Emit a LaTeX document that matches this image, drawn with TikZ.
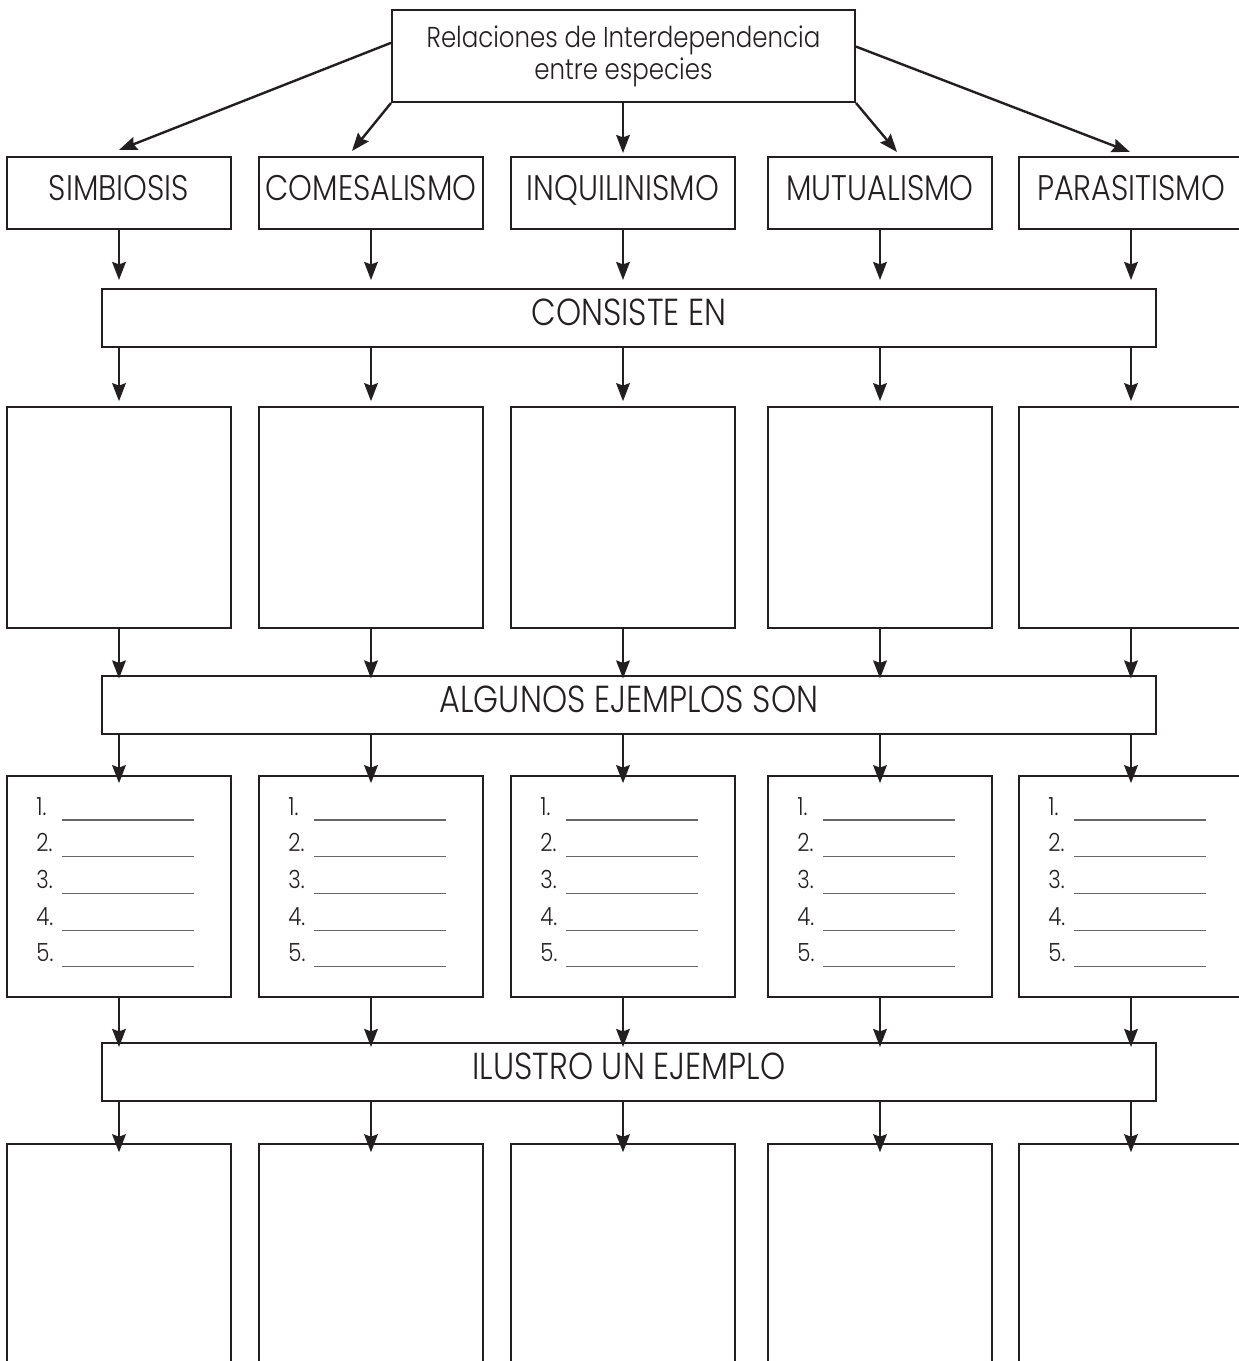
\documentclass[tikz,border=0pt]{standalone}
\usepackage{fontspec}
\setmainfont{Poppins}[UprightFont=* Light, FakeStretch=0.85]
\usetikzlibrary{arrows.meta,calc}
\definecolor{ink}{HTML}{231F20}
\begin{document}
\begin{tikzpicture}[x=0.5pt,y=-0.5pt,
  frame/.style={draw=ink, line width=1pt, inner sep=0pt, text=ink},
  topbox/.style={frame, minimum width=231.5pt, minimum height=46pt, align=center,
    font=\fontsize{14.4pt}{16pt}\selectfont},
  labbox/.style={frame, minimum width=112pt, minimum height=36pt,
    text height=12pt, text depth=4.5pt, font=\fontsize{17.8pt}{20pt}\selectfont},
  banner/.style={frame, minimum width=527pt, minimum height=29pt,
    text height=12pt, text depth=4.5pt, font=\fontsize{18.8pt}{20pt}\selectfont},
  bigbox/.style={frame, line width=0.8pt, minimum width=112pt, minimum height=110.5pt},
  num/.style={inner sep=0pt, text=ink, anchor=base west, font=\fontsize{12.5pt}{13pt}\selectfont},
  blank/.style={draw=black!60, line width=0.6pt},
  arr/.style={draw=ink, line width=1.2pt, -{Stealth[length=9pt,width=6.8pt,inset=1.2pt]}}
]
\useasboundingbox (0,0) rectangle (1238,1361);

\node[topbox] (top) at (623.5,56) {Relaciones de Interdependencia\\entre especies};

\foreach \x/\n/\t in {119/1/SIMBIOSIS,371/2/COMESALISMO,623/3/INQUILINISMO,880/4/MUTUALISMO,1131/5/PARASITISMO}{
  \node[labbox] (r1\n) at (\x,193) {\t};
  \node[bigbox] (r2\n) at (\x,517.5) {};
  \node[bigbox] (r3\n) at (\x,886.5) {};
  \node[bigbox, line width=0.7pt] (r4\n) at (\x,1254.5) {};
  \foreach \i in {1,...,5}{
    \node[num] (n\n\i) at ({\x-83},{815+36.7*(\i-1)}) {\i.};
    \draw[blank] ({\x-57},{820+36.7*(\i-1)}) -- ({\x+75},{820+36.7*(\i-1)});
  }
}

\node[banner] (b1) at (629,318) {CONSISTE EN};
\node[banner] (b2) at (629,704.5) {ALGUNOS EJEMPLOS SON};
\node[banner] (b3) at (629,1072) {ILUSTRO UN EJEMPLO};

% from title
\draw[arr] ($(top.north west)!0.36!(top.south west)$) -- ($(r11.north)+(0,-6)$);
\draw[arr] (top.south west) -- ($(r12.north)+(-19,-5)$);
\draw[arr] (r13.north |- top.south) -- ($(r13.north)+(0,-3)$);
\draw[arr] (top.south east) -- ($(r14.north)+(17,-4)$);
\draw[arr] ($(top.north east)!0.4!(top.south east)$) -- ($(r15.north)+(-1,-4)$);

\foreach \n in {1,...,5}{
  \draw[arr, shorten >=4pt] (r1\n.south) -- (r1\n.south |- b1.north);
  \draw[arr, shorten >=2.5pt] (b1.south -| r2\n.north) -- (r2\n.north);
  \draw[arr, shorten >=-2pt] (r2\n.south) -- (r2\n.south |- b2.north);
  \draw[arr, shorten >=-4pt] (b2.south -| r3\n.north) -- (r3\n.north);
  \draw[arr, shorten >=-2.5pt] (r3\n.south) -- (r3\n.south |- b3.north);
  \draw[arr, shorten >=-4.5pt] (b3.south -| r4\n.north) -- (r4\n.north);
}
\end{tikzpicture}
\end{document}
